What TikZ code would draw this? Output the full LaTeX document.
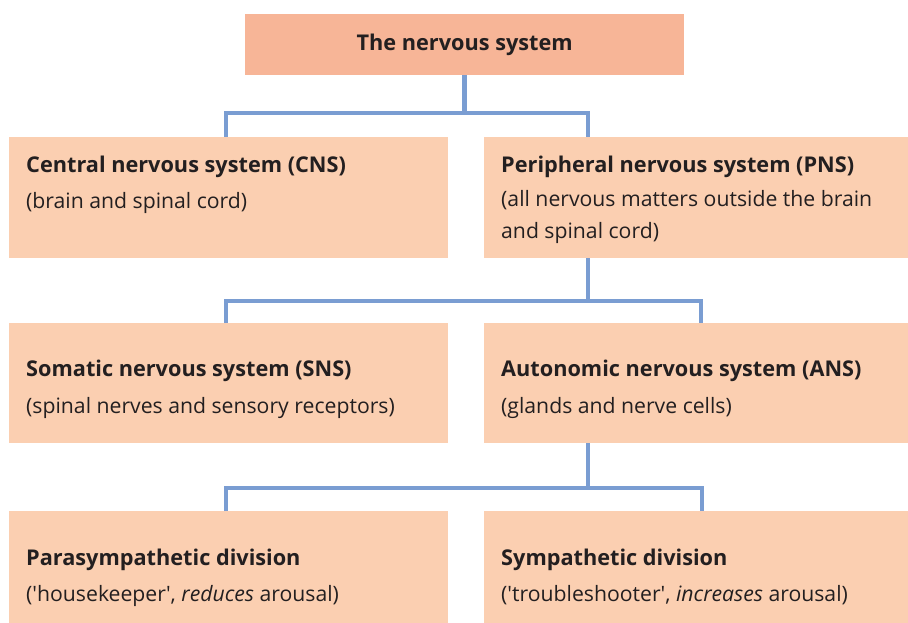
\documentclass[tikz,border=0pt]{standalone}
\usepackage{fontspec}
\setmainfont{Open Sans}
\usetikzlibrary{positioning}

\definecolor{topfill}{HTML}{F7B597}
\definecolor{boxfill}{HTML}{FBCFB1}
\definecolor{linkblue}{HTML}{7A9DD2}
\definecolor{ink}{HTML}{231F20}

\tikzset{
  box/.style={fill=boxfill, draw=none, anchor=north west, inner sep=0pt},
  topbox/.style={fill=topfill, draw=none, anchor=north west, inner sep=0pt, text=ink,
    font=\fontsize{21.7}{24}\selectfont\bfseries},
  head/.style={anchor=base west, inner sep=0pt, text=ink, font=\fontsize{21.7}{24}\selectfont\bfseries},
  sub/.style={anchor=base west, inner sep=0pt, text=ink, align=left, font=\fontsize{21.2}{32}\selectfont},
  link/.style={draw=linkblue, line width=4.5pt}
}

\begin{document}
\begin{tikzpicture}[x=1pt, y=-1pt]
  \useasboundingbox (0,0) rectangle (908,623);

  % boxes
  \node[topbox, minimum width=439pt, minimum height=61pt] (top) at (245,14) {The nervous system};
  \node[box, minimum width=439pt, minimum height=121pt] (cns) at (9,137) {};
  \node[box, minimum width=424pt, minimum height=121pt] (pns) at (484,137) {};
  \node[box, minimum width=439pt, minimum height=120pt] (sns) at (9,323) {};
  \node[box, minimum width=424pt, minimum height=120pt] (ans) at (484,323) {};
  \node[box, minimum width=439pt, minimum height=112pt] (para) at (9,511) {};
  \node[box, minimum width=424pt, minimum height=112pt] (symp) at (484,511) {};

  % texts
  \node[head] (cnshead) at (26,172) {Central nervous system (CNS)};
  \node[sub]  (cnssub)  at (26,208) {(brain and spinal cord)};
  \node[head] (pnshead) at (501,172) {Peripheral nervous system (PNS)};
  \node[sub]  (pnssub)  at (501,238) {(all nervous matters outside the brain\\and spinal cord)};
  \node[head] (snshead) at (26,376) {Somatic nervous system (SNS)};
  \node[sub]  (snssub)  at (26,413) {(spinal nerves and sensory receptors)};
  \node[head] (anshead) at (501,376) {Autonomic nervous system (ANS)};
  \node[sub]  (anssub)  at (501,413) {(glands and nerve cells)};
  \node[head] (parahead) at (26,565) {Parasympathetic division};
  \node[sub]  (parasub)  at (26,601) {(\textquotesingle housekeeper\textquotesingle, \textit{reduces} arousal)};
  \node[head] (symphead) at (501,565) {Sympathetic division};
  \node[sub]  (sympsub)  at (501,601) {(\textquotesingle troubleshooter\textquotesingle, \textit{increases} arousal)};

  % connectors
  \coordinate (a1) at (226,113); \coordinate (b1) at (588,113);
  \coordinate (a2) at (226,301); \coordinate (b2) at (701,301);
  \coordinate (a3) at (226,488); \coordinate (b3) at (702,488);
  \draw[link] (top.south) -- (top.south |- a1);
  \draw[link] (cns.north -| a1) -- (a1) -- (b1) -- (pns.north -| b1);
  \draw[link] (pns.south -| b1) -- (b1 |- a2);
  \draw[link] (sns.north -| a2) -- (a2) -- (b2) -- (ans.north -| b2);
  \draw[link] (ans.south -| b1) -- (b1 |- a3);
  \draw[link] (para.north -| a3) -- (a3) -- (b3) -- (symp.north -| b3);
\end{tikzpicture}
\end{document}
